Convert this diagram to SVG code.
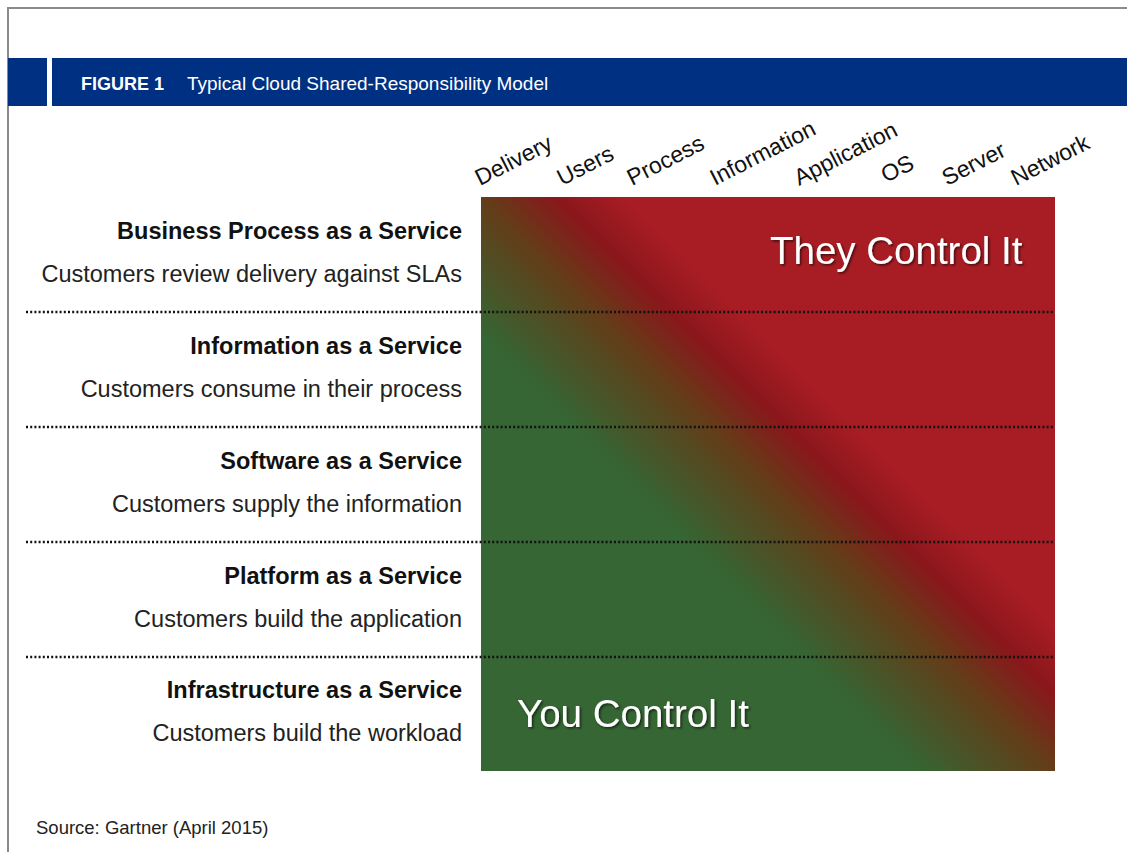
<svg xmlns="http://www.w3.org/2000/svg" width="1127" height="852" viewBox="0 0 1127 852">
<defs>
<linearGradient id="g" gradientUnits="userSpaceOnUse" x1="481" y1="771" x2="1055" y2="197">
<stop offset="0" stop-color="#356633"/>
<stop offset="0.38" stop-color="#356633"/>
<stop offset="0.5" stop-color="#633d19"/>
<stop offset="0.565" stop-color="#8a171b"/>
<stop offset="0.625" stop-color="#a81d24"/>
<stop offset="1" stop-color="#a81d24"/>
</linearGradient>
<filter id="sh" x="-10%" y="-30%" width="120%" height="160%">
<feDropShadow dx="1.5" dy="1.5" stdDeviation="1" flood-color="#000" flood-opacity="0.6"/>
</filter>
<style>
.t{font-family:"Liberation Sans",Arial,sans-serif;font-size:23.5px;fill:#111;text-anchor:end}
.b{font-weight:bold}
.s{fill:#222}
.col{font-family:"Liberation Sans",Arial,sans-serif;font-size:23px;fill:#111}
.big{font-family:"Liberation Sans",Arial,sans-serif;font-size:38.5px;fill:#fff;filter:url(#sh)}
.dot{stroke:#111;stroke-width:2.5;stroke-dasharray:2 2.2;fill:none}
.hd{font-family:"Liberation Sans",Arial,sans-serif;fill:#fff}
</style>
</defs>
<g id="frame">
<rect x="0" y="0" width="1127" height="852" fill="#fff"/>
<path d="M8 852V8H1127" fill="none" stroke="#8a8a8a" stroke-width="2"/>
<rect x="8" y="58" width="39" height="48" fill="#003082"/>
<rect x="52" y="58" width="1075" height="48" fill="#003082"/>
<text class="hd" x="81" y="90" font-size="18" font-weight="bold">FIGURE 1</text>
<text class="hd" x="187" y="90" font-size="19">Typical Cloud Shared-Responsibility Model</text>
</g>
<g id="matrix">
<rect x="481" y="197" width="574" height="574" fill="url(#g)"/>
<text class="big" x="770" y="264">They Control It</text>
<text class="big" x="517" y="727">You Control It</text>
</g>
<g id="columns">
<text class="col" transform="translate(480,186) rotate(-27)">Delivery</text>
<text class="col" transform="translate(562,186) rotate(-27)">Users</text>
<text class="col" transform="translate(632,186) rotate(-27)">Process</text>
<text class="col" transform="translate(715,186) rotate(-27)">Information</text>
<text class="col" transform="translate(799,186) rotate(-27)">Application</text>
<text class="col" transform="translate(886,183) rotate(-27)">OS</text>
<text class="col" transform="translate(947,186) rotate(-27)">Server</text>
<text class="col" transform="translate(1016,186) rotate(-27)">Network</text>
</g>
<g id="rows">
<g id="bpaas">
<text class="t b" x="462" y="239">Business Process as a Service</text>
<text class="t s" x="462" y="282">Customers review delivery against SLAs</text>
</g>
<g id="iaas-info">
<text class="t b" x="462" y="354">Information as a Service</text>
<text class="t s" x="462" y="397">Customers consume in their process</text>
</g>
<g id="saas">
<text class="t b" x="462" y="469">Software as a Service</text>
<text class="t s" x="462" y="512">Customers supply the information</text>
</g>
<g id="paas">
<text class="t b" x="462" y="584">Platform as a Service</text>
<text class="t s" x="462" y="627">Customers build the application</text>
</g>
<g id="iaas">
<text class="t b" x="462" y="698">Infrastructure as a Service</text>
<text class="t s" x="462" y="741">Customers build the workload</text>
</g>
</g>
<g id="connectors">
<line class="dot" x1="26" y1="312" x2="1054" y2="312"/>
<line class="dot" x1="26" y1="427" x2="1054" y2="427"/>
<line class="dot" x1="26" y1="542" x2="1054" y2="542"/>
<line class="dot" x1="26" y1="657" x2="1054" y2="657"/>
</g>
<text x="36" y="834" font-family="Liberation Sans,Arial,sans-serif" font-size="18.5" fill="#222">Source: Gartner (April 2015)</text>
</svg>
